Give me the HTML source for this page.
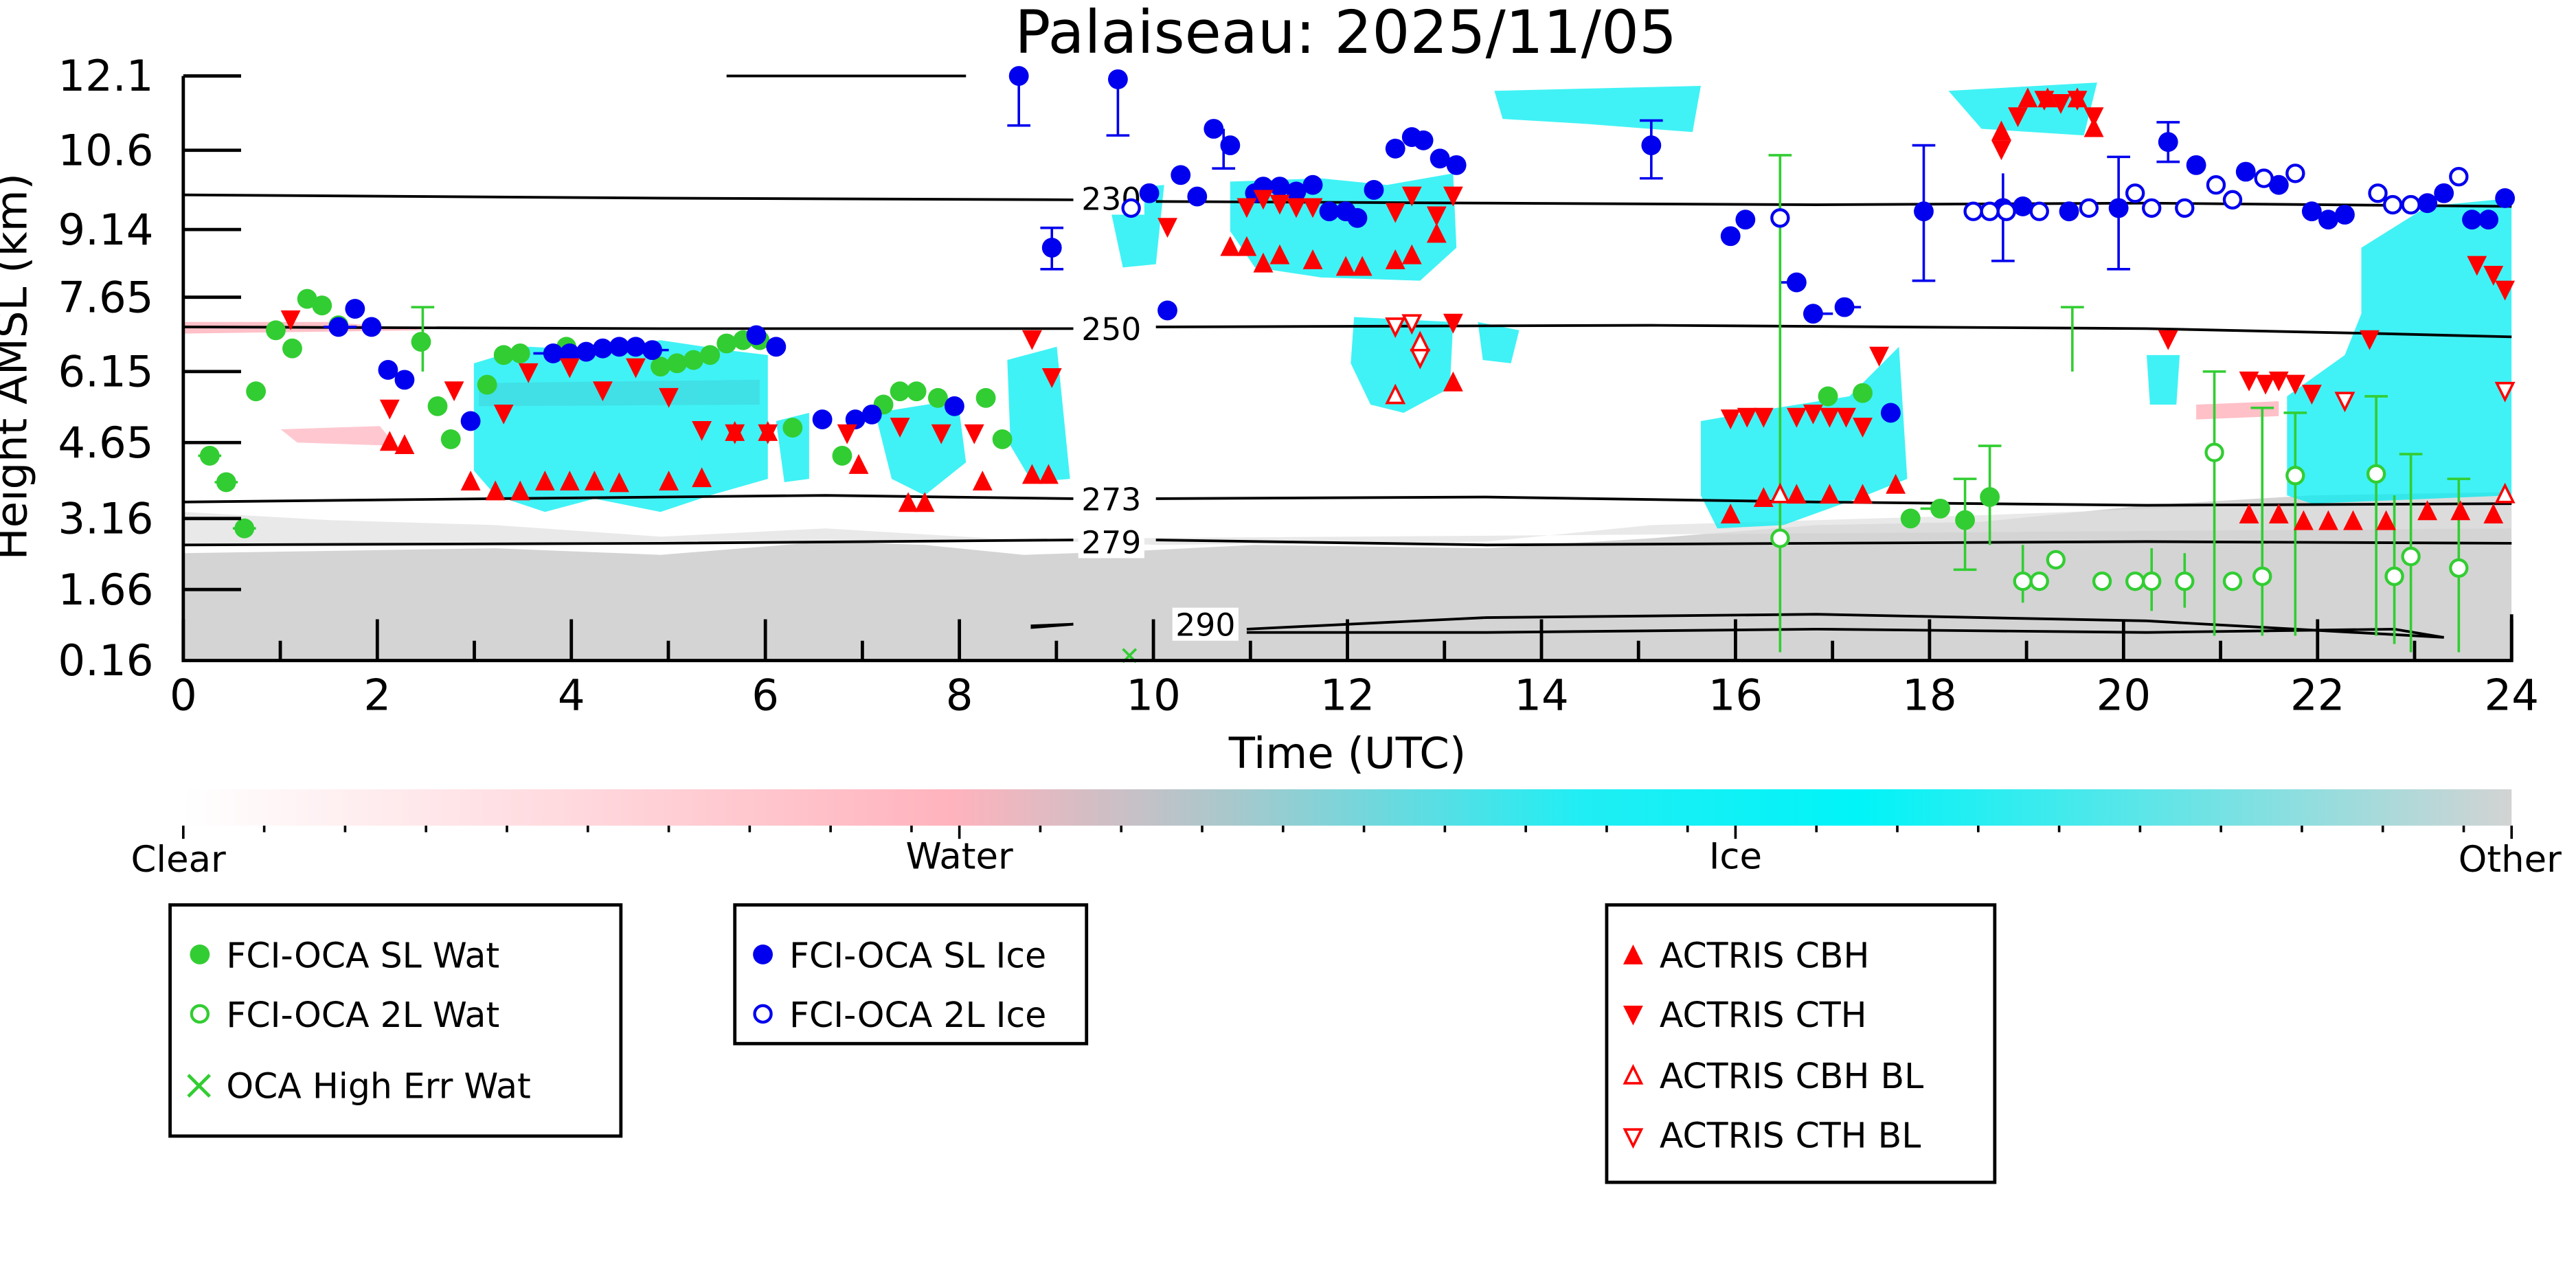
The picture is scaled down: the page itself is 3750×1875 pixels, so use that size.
<!DOCTYPE html>
<html><head><meta charset="utf-8"><style>html,body{margin:0;padding:0;background:#fff}svg{display:block}</style></head>
<body>
<svg width="3750" height="1875" viewBox="0 0 1560 780" xmlns="http://www.w3.org/2000/svg" font-family="'DejaVu Sans','Liberation Sans',sans-serif">
<defs>
<linearGradient id="cb" x1="0" x2="1" y1="0" y2="0">
<stop offset="0" stop-color="#ffffff"/><stop offset="0.33" stop-color="#ffb3bd"/><stop offset="0.45" stop-color="#a8c8cc"/><stop offset="0.6" stop-color="#20eef4"/><stop offset="0.72" stop-color="#00f4f8"/><stop offset="1" stop-color="#d3d3d3"/>
</linearGradient>
<clipPath id="pc"><rect x="111" y="46" width="1410" height="354"/></clipPath>
<symbol id="gc" overflow="visible"><circle r="6" fill="#32cd32"/></symbol>
<symbol id="go" overflow="visible"><circle r="5" fill="#fff" stroke="#32cd32" stroke-width="1.8"/></symbol>
<symbol id="bc" overflow="visible"><circle r="6" fill="#0000ee"/></symbol>
<symbol id="bo" overflow="visible"><circle r="5" fill="#fff" stroke="#0000ee" stroke-width="1.8"/></symbol>
<symbol id="ru" overflow="visible"><path d="M0,-7 L6,5 L-6,5Z" fill="#f00"/></symbol>
<symbol id="rd" overflow="visible"><path d="M0,7 L6,-5 L-6,-5Z" fill="#f00"/></symbol>
<symbol id="ruo" overflow="visible"><path d="M0,-6 L5,4 L-5,4Z" fill="#fff" stroke="#f00" stroke-width="1.5"/></symbol>
<symbol id="rdo" overflow="visible"><path d="M0,6 L5,-4 L-5,-4Z" fill="#fff" stroke="#f00" stroke-width="1.5"/></symbol>
</defs>
<rect width="1560" height="780" fill="#fff"/>
<text x="815" y="32" font-size="36" text-anchor="middle">Palaiseau: 2025/11/05</text>
<g clip-path="url(#pc)">
<path d="M111,335 L300,332 L400,336 L500,328 L560,330 L620,336 L680,334 L760,330 L900,332 L1000,326 L1100,318 L1200,316 L1300,306 L1400,300 L1521,298 L1521,400 L111,400Z" fill="#d4d4d4"/>
<path d="M111,310 L200,315 L300,318 L400,325 L500,320 L600,326 L700,330 L900,328 L1000,318 L1200,312 L1521,300 L1521,320 L111,330Z" fill="#e0e0e0" opacity="0.7"/>
<path d="M111,195 L200,195 L260,200 L111,202Z" fill="#ffc0c8"/>
<path d="M170,260 L230,258 L240,270 L180,268Z" fill="#ffc8d0"/>
<path d="M290,232 L460,230 L460,245 L290,246Z" fill="#ffb8c2"/>
<path d="M1330,245 L1380,243 L1380,252 L1330,254Z" fill="#ffc0c8"/>
<g fill="#00eef2" opacity="0.75">
<path d="M287,220 L320,210 L360,212 L400,206 L440,212 L465,215 L465,290 L430,300 L400,310 L360,302 L330,310 L300,300 L287,285Z"/>
<path d="M470,255 L490,250 L490,290 L475,292Z"/>
<path d="M530,250 L580,242 L585,280 L560,300 L540,290Z"/>
<path d="M610,218 L640,210 L648,290 L625,292 L612,270Z"/>
<path d="M670,115 L705,112 L700,160 L680,162Z"/>
<path d="M745,110 L800,108 L840,112 L880,105 L882,150 L860,170 L800,168 L760,162 L745,140Z"/>
<path d="M820,192 L880,195 L878,235 L850,250 L830,245 L818,220Z"/>
<path d="M895,195 L920,200 L915,220 L898,218Z"/>
<path d="M1030,255 L1070,248 L1120,240 L1150,210 L1155,290 L1130,300 L1080,318 L1040,320 L1030,300Z"/>
<path d="M1180,55 L1270,50 L1262,82 L1200,78Z"/>
<path d="M905,55 L1030,52 L1025,80 L960,75 L910,72Z"/>
<path d="M1430,150 L1470,125 L1521,120 L1521,300 L1400,305 L1385,300 L1385,240 L1420,215 L1430,190Z"/>
<path d="M1300,215 L1320,215 L1318,245 L1302,245Z"/>
</g>
</g>
<g fill="none" stroke="#000" stroke-width="1.6">
<path d="M111,118 L400,120 L650,121"/><path d="M700,122 L900,123 L1100,124 L1300,123 L1521,125"/>
<path d="M111,198 L400,199 L650,199"/><path d="M700,198 L1000,197 L1300,199 L1440,202 L1521,204"/>
<path d="M111,304 L300,302 L500,300 L650,302"/><path d="M700,302 L900,301 L1100,304 L1300,306 L1521,305"/>
<path d="M111,330 L400,329 L650,327"/><path d="M700,327 L900,330 L1100,329 L1300,328 L1521,329"/>
<path d="M755,381 L900,374 L1100,372 L1300,376 L1480,386 L1450,381 L1300,383 L1100,381 L900,383 L755,383"/>
<path d="M625,379 L650,378 L625,380Z"/>
<path d="M440,46 L585,46"/>
</g>
<g font-size="19" text-anchor="middle">
<rect x="653" y="110" width="40" height="20" fill="#fff"/><text x="673" y="127">230</text>
<rect x="653" y="189" width="40" height="20" fill="#fff"/><text x="673" y="206">250</text>
<rect x="653" y="292" width="40" height="20" fill="#fff"/><text x="673" y="309">273</text>
<rect x="653" y="318" width="40" height="20" fill="#fff"/><text x="673" y="335">279</text>
<rect x="710" y="368" width="40" height="20" fill="#fff"/><text x="730" y="385">290</text>
</g>
<g stroke="#0000ee" stroke-width="1.5" fill="none">
<path d="M617,46V76M610,76h14M677,46V82M670,82h14M637,138V163M630,163h14M630,138h14M1000,73V108M993,73h14M993,108h14M1165,88V170M1158,88h14M1158,170h14M1213,105V158M1206,158h14M1283,95V163M1276,95h14M1276,163h14M1313,74V98M1306,74h14M1306,98h14M741,78V102M734,102h14"/>
<path d="M196,198h20M335,214h-12M395,212h10M1088,171h-10M1098,190h12M1117,186h10"/>
</g>
<g stroke="#32cd32" stroke-width="1.5" fill="none">
<path d="M1078,94V395M1071,94h14M1341,225V385M1334,225h14M1370,247V385M1363,247h14M1390,250V385M1383,250h14M1439,240V385M1432,240h14M1450,300V390M1460,275V395M1453,275h14M1489,290V395M1482,290h14M1205,270V330M1198,270h14M1190,290V345M1183,290h14M1183,345h14M1225,330V365M1303,332V370M1323,335V368M1255,186V225M1248,186h14M256,186V225M249,186h14"/>
<path d="M120,276h14M130,292h14M141,320h14M1175,308h-12"/>
</g>
<g>
<use href="#gc" x="127" y="276"/><use href="#gc" x="137" y="292"/><use href="#gc" x="148" y="320"/><use href="#gc" x="155" y="237"/><use href="#gc" x="167" y="200"/><use href="#gc" x="177" y="211"/><use href="#gc" x="186" y="181"/><use href="#gc" x="195" y="185"/><use href="#gc" x="205" y="197"/><use href="#gc" x="255" y="207"/><use href="#gc" x="265" y="246"/><use href="#gc" x="273" y="266"/><use href="#gc" x="295" y="233"/><use href="#gc" x="305" y="215"/><use href="#gc" x="315" y="214"/><use href="#gc" x="343" y="210"/><use href="#gc" x="400" y="222"/><use href="#gc" x="410" y="220"/><use href="#gc" x="420" y="218"/><use href="#gc" x="430" y="215"/><use href="#gc" x="440" y="208"/><use href="#gc" x="450" y="206"/><use href="#gc" x="460" y="206"/><use href="#gc" x="480" y="259"/><use href="#gc" x="510" y="276"/><use href="#gc" x="535" y="245"/><use href="#gc" x="545" y="237"/><use href="#gc" x="555" y="237"/><use href="#gc" x="568" y="241"/><use href="#gc" x="597" y="241"/><use href="#gc" x="607" y="266"/><use href="#gc" x="1107" y="240"/><use href="#gc" x="1128" y="238"/><use href="#gc" x="1157" y="314"/><use href="#gc" x="1175" y="308"/><use href="#gc" x="1190" y="315"/><use href="#gc" x="1205" y="301"/>
<use href="#go" x="1078" y="326"/><use href="#go" x="1341" y="274"/><use href="#go" x="1390" y="288"/><use href="#go" x="1225" y="352"/><use href="#go" x="1235" y="352"/><use href="#go" x="1245" y="339"/><use href="#go" x="1273" y="352"/><use href="#go" x="1293" y="352"/><use href="#go" x="1303" y="352"/><use href="#go" x="1323" y="352"/><use href="#go" x="1352" y="352"/><use href="#go" x="1370" y="349"/><use href="#go" x="1439" y="287"/><use href="#go" x="1450" y="349"/><use href="#go" x="1460" y="337"/><use href="#go" x="1489" y="344"/>
<use href="#bc" x="617" y="46"/><use href="#bc" x="677" y="48"/><use href="#bc" x="637" y="150"/><use href="#bc" x="707" y="188"/><use href="#bc" x="696" y="117"/><use href="#bc" x="715" y="106"/><use href="#bc" x="725" y="119"/><use href="#bc" x="735" y="78"/><use href="#bc" x="745" y="88"/><use href="#bc" x="760" y="117"/><use href="#bc" x="765" y="113"/><use href="#bc" x="775" y="113"/><use href="#bc" x="785" y="116"/><use href="#bc" x="795" y="112"/><use href="#bc" x="805" y="128"/><use href="#bc" x="815" y="128"/><use href="#bc" x="822" y="132"/><use href="#bc" x="832" y="115"/><use href="#bc" x="845" y="90"/><use href="#bc" x="855" y="83"/><use href="#bc" x="862" y="85"/><use href="#bc" x="872" y="96"/><use href="#bc" x="882" y="100"/><use href="#bc" x="1000" y="88"/><use href="#bc" x="1048" y="143"/><use href="#bc" x="1057" y="133"/><use href="#bc" x="1088" y="171"/><use href="#bc" x="1098" y="190"/><use href="#bc" x="1117" y="186"/><use href="#bc" x="1145" y="250"/><use href="#bc" x="1165" y="128"/><use href="#bc" x="1213" y="126"/><use href="#bc" x="1225" y="125"/><use href="#bc" x="1253" y="128"/><use href="#bc" x="1283" y="126"/><use href="#bc" x="1313" y="86"/><use href="#bc" x="1330" y="100"/><use href="#bc" x="1360" y="104"/><use href="#bc" x="1380" y="112"/><use href="#bc" x="1400" y="128"/><use href="#bc" x="1410" y="133"/><use href="#bc" x="1420" y="130"/><use href="#bc" x="1470" y="123"/><use href="#bc" x="1480" y="117"/><use href="#bc" x="1497" y="133"/><use href="#bc" x="1507" y="133"/><use href="#bc" x="1517" y="120"/><use href="#bc" x="205" y="198"/><use href="#bc" x="215" y="187"/><use href="#bc" x="225" y="198"/><use href="#bc" x="235" y="224"/><use href="#bc" x="245" y="230"/><use href="#bc" x="285" y="255"/><use href="#bc" x="335" y="214"/><use href="#bc" x="345" y="214"/><use href="#bc" x="355" y="213"/><use href="#bc" x="365" y="211"/><use href="#bc" x="375" y="210"/><use href="#bc" x="385" y="210"/><use href="#bc" x="395" y="212"/><use href="#bc" x="458" y="203"/><use href="#bc" x="470" y="210"/><use href="#bc" x="498" y="254"/><use href="#bc" x="518" y="254"/><use href="#bc" x="528" y="251"/><use href="#bc" x="578" y="246"/>
<use href="#bo" x="685" y="126"/><use href="#bo" x="1078" y="132"/><use href="#bo" x="1195" y="128"/><use href="#bo" x="1205" y="128"/><use href="#bo" x="1215" y="128"/><use href="#bo" x="1235" y="128"/><use href="#bo" x="1265" y="126"/><use href="#bo" x="1293" y="117"/><use href="#bo" x="1303" y="126"/><use href="#bo" x="1323" y="126"/><use href="#bo" x="1342" y="112"/><use href="#bo" x="1352" y="121"/><use href="#bo" x="1371" y="108"/><use href="#bo" x="1390" y="105"/><use href="#bo" x="1440" y="117"/><use href="#bo" x="1449" y="124"/><use href="#bo" x="1460" y="124"/><use href="#bo" x="1489" y="107"/>
<use href="#rd" x="176" y="193"/><use href="#rd" x="236" y="247"/><use href="#rd" x="275" y="236"/><use href="#rd" x="305" y="250"/><use href="#rd" x="320" y="225"/><use href="#rd" x="345" y="222"/><use href="#rd" x="365" y="236"/><use href="#rd" x="385" y="222"/><use href="#rd" x="405" y="240"/><use href="#rd" x="425" y="260"/><use href="#rd" x="445" y="262"/><use href="#rd" x="465" y="262"/><use href="#rd" x="513" y="262"/><use href="#rd" x="545" y="258"/><use href="#rd" x="570" y="262"/><use href="#rd" x="590" y="262"/><use href="#rd" x="625" y="205"/><use href="#rd" x="637" y="228"/><use href="#rd" x="707" y="137"/><use href="#rd" x="755" y="125"/><use href="#rd" x="765" y="120"/><use href="#rd" x="775" y="123"/><use href="#rd" x="785" y="125"/><use href="#rd" x="795" y="125"/><use href="#rd" x="845" y="128"/><use href="#rd" x="855" y="118"/><use href="#rd" x="870" y="130"/><use href="#rd" x="880" y="118"/><use href="#rd" x="880" y="195"/><use href="#rd" x="1048" y="253"/><use href="#rd" x="1058" y="252"/><use href="#rd" x="1068" y="252"/><use href="#rd" x="1088" y="252"/><use href="#rd" x="1098" y="250"/><use href="#rd" x="1108" y="252"/><use href="#rd" x="1118" y="252"/><use href="#rd" x="1128" y="258"/><use href="#rd" x="1138" y="215"/><use href="#rd" x="1212" y="90"/><use href="#rd" x="1222" y="70"/><use href="#rd" x="1238" y="60"/><use href="#rd" x="1248" y="62"/><use href="#rd" x="1258" y="60"/><use href="#rd" x="1268" y="70"/><use href="#rd" x="1313" y="205"/><use href="#rd" x="1362" y="230"/><use href="#rd" x="1372" y="232"/><use href="#rd" x="1380" y="230"/><use href="#rd" x="1390" y="232"/><use href="#rd" x="1400" y="238"/><use href="#rd" x="1435" y="205"/><use href="#rd" x="1500" y="160"/><use href="#rd" x="1510" y="166"/><use href="#rd" x="1517" y="175"/>
<use href="#ru" x="236" y="268"/><use href="#ru" x="245" y="270"/><use href="#ru" x="285" y="292"/><use href="#ru" x="300" y="298"/><use href="#ru" x="315" y="298"/><use href="#ru" x="330" y="292"/><use href="#ru" x="345" y="292"/><use href="#ru" x="360" y="292"/><use href="#ru" x="375" y="293"/><use href="#ru" x="405" y="292"/><use href="#ru" x="425" y="290"/><use href="#ru" x="445" y="262"/><use href="#ru" x="465" y="262"/><use href="#ru" x="520" y="282"/><use href="#ru" x="550" y="305"/><use href="#ru" x="560" y="305"/><use href="#ru" x="595" y="292"/><use href="#ru" x="625" y="288"/><use href="#ru" x="635" y="288"/><use href="#ru" x="745" y="150"/><use href="#ru" x="755" y="150"/><use href="#ru" x="765" y="160"/><use href="#ru" x="775" y="155"/><use href="#ru" x="795" y="158"/><use href="#ru" x="815" y="162"/><use href="#ru" x="825" y="162"/><use href="#ru" x="845" y="158"/><use href="#ru" x="855" y="155"/><use href="#ru" x="870" y="142"/><use href="#ru" x="880" y="232"/><use href="#ru" x="1048" y="312"/><use href="#ru" x="1068" y="302"/><use href="#ru" x="1088" y="300"/><use href="#ru" x="1108" y="300"/><use href="#ru" x="1128" y="300"/><use href="#ru" x="1148" y="294"/><use href="#ru" x="1212" y="80"/><use href="#ru" x="1228" y="60"/><use href="#ru" x="1240" y="60"/><use href="#ru" x="1258" y="60"/><use href="#ru" x="1268" y="78"/><use href="#ru" x="1362" y="312"/><use href="#ru" x="1380" y="312"/><use href="#ru" x="1395" y="316"/><use href="#ru" x="1410" y="316"/><use href="#ru" x="1425" y="316"/><use href="#ru" x="1445" y="316"/><use href="#ru" x="1470" y="310"/><use href="#ru" x="1490" y="310"/><use href="#ru" x="1510" y="312"/>
<use href="#rdo" x="845" y="197"/><use href="#rdo" x="855" y="195"/><use href="#rdo" x="860" y="216"/><use href="#rdo" x="1420" y="242"/><use href="#rdo" x="1517" y="236"/>
<use href="#ruo" x="845" y="240"/><use href="#ruo" x="860" y="208"/><use href="#ruo" x="1078" y="300"/><use href="#ruo" x="1517" y="300"/>
<path d="M680,393l8,8M688,393l-8,8" stroke="#32cd32" stroke-width="1.5"/>
</g>
<g stroke="#000" stroke-width="2" fill="none">
<path d="M111,46V400H1521V372"/>
<path d="M111,46h35M111,91h35M111,139h35M111,180h35M111,225h35M111,268h35M111,314h35M111,357h35"/>
<path d="M111,400v-25M228.5,400v-25M346,400v-25M463.5,400v-25M581,400v-25M698.5,400v-25M816,400v-25M933.5,400v-25M1051,400v-25M1168.5,400v-25M1286,400v-25M1403.5,400v-25M1521,400v-25"/>
<path d="M169.75,400v-12M287.25,400v-12M404.75,400v-12M522.25,400v-12M639.75,400v-12M757.25,400v-12M874.75,400v-12M992.25,400v-12M1109.75,400v-12M1227.25,400v-12M1344.75,400v-12M1462.25,400v-12"/>
</g>
<g font-size="26" text-anchor="end">
<text x="93" y="55">12.1</text><text x="93" y="100">10.6</text><text x="93" y="148">9.14</text><text x="93" y="189">7.65</text><text x="93" y="234">6.15</text><text x="93" y="277">4.65</text><text x="93" y="323">3.16</text><text x="93" y="366">1.66</text><text x="93" y="409">0.16</text>
</g>
<g font-size="26" text-anchor="middle">
<text x="111" y="430">0</text><text x="228.5" y="430">2</text><text x="346" y="430">4</text><text x="463.5" y="430">6</text><text x="581" y="430">8</text><text x="698.5" y="430">10</text><text x="816" y="430">12</text><text x="933.5" y="430">14</text><text x="1051" y="430">16</text><text x="1168.5" y="430">18</text><text x="1286" y="430">20</text><text x="1403.5" y="430">22</text><text x="1521" y="430">24</text>
<text x="816" y="465">Time (UTC)</text>
<text transform="translate(16,222) rotate(-90)">Height AMSL (km)</text>
</g>
<rect x="111" y="478" width="1410" height="22" fill="url(#cb)"/>
<g stroke="#000" stroke-width="1.5">
<path d="M111,500v8M581,500v8M1051,500v8M1521,500v8"/>
<path d="M160,500v4M209,500v4M258,500v4M307,500v4M356,500v4M405,500v4M454,500v4M503,500v4M552,500v4M630,500v4M679,500v4M728,500v4M777,500v4M826,500v4M875,500v4M924,500v4M973,500v4M1022,500v4M1100,500v4M1149,500v4M1198,500v4M1247,500v4M1296,500v4M1345,500v4M1394,500v4M1443,500v4M1492,500v4"/>
</g>
<g font-size="22" text-anchor="middle">
<text x="108" y="528">Clear</text><text x="581" y="526">Water</text><text x="1051" y="526">Ice</text><text x="1520" y="528">Other</text>
</g>
<g fill="none" stroke="#000" stroke-width="2">
<rect x="103" y="548" width="273" height="140"/><rect x="445" y="548" width="213" height="84"/><rect x="973" y="548" width="235" height="168"/>
</g>
<g font-size="21">
<use href="#gc" x="121" y="578"/><text x="137" y="586">FCI-OCA SL Wat</text>
<use href="#go" x="121" y="614"/><text x="137" y="622">FCI-OCA 2L Wat</text>
<path d="M114,651l13,13M127,651l-13,13" stroke="#32cd32" stroke-width="2"/><text x="137" y="665">OCA High Err Wat</text>
<use href="#bc" x="462" y="578"/><text x="478" y="586">FCI-OCA SL Ice</text>
<use href="#bo" x="462" y="614"/><text x="478" y="622">FCI-OCA 2L Ice</text>
<use href="#ru" x="989" y="579"/><text x="1005" y="586">ACTRIS CBH</text>
<use href="#rd" x="989" y="614"/><text x="1005" y="622">ACTRIS CTH</text>
<use href="#ruo" x="989" y="652"/><text x="1005" y="659">ACTRIS CBH BL</text>
<use href="#rdo" x="989" y="688"/><text x="1005" y="695">ACTRIS CTH BL</text>
</g>
</svg>
</body></html>
